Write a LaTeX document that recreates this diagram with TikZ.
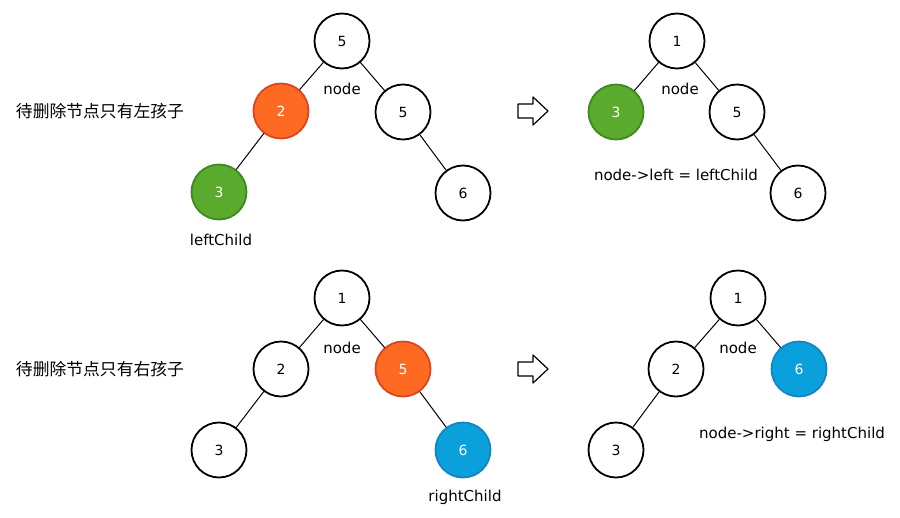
\documentclass[tikz,border=0pt]{standalone}
\usepackage{fontspec}
\setmainfont{DejaVu Sans}
\newfontfamily\cjk{Noto Sans CJK SC}
\definecolor{delfill}{HTML}{FF6A22}
\definecolor{deldraw}{HTML}{DD4422}
\definecolor{leftfill}{HTML}{5AAA2E}
\definecolor{leftdraw}{HTML}{3E8A22}
\definecolor{rightfill}{HTML}{0AA0DC}
\definecolor{rightdraw}{HTML}{1584C4}
\begin{document}
\begin{tikzpicture}[x=1pt, y=-1pt, line join=round, line cap=round,
    tnode/.style={circle, draw, line width=1.8pt, minimum size=55pt, inner sep=0pt, font=\fontsize{14}{14}\selectfont},
    delnode/.style={tnode, draw=deldraw, fill=delfill, text=white},
    lnode/.style={tnode, draw=leftdraw, fill=leftfill, text=white},
    rnode/.style={tnode, draw=rightdraw, fill=rightfill, text=white},
    link/.style={line width=1pt},
    lbl/.style={font=\fontsize{15}{15}\selectfont},
    cn/.style={font=\cjk\fontsize{16.8}{16.8}\selectfont},
    turn/.style={line width=1.2pt}]
  \useasboundingbox (0,0) rectangle (900,517);
  % top left: only a left child
  \node[cn] (t1) at (100,111) {待删除节点只有左孩子};
  \node[tnode] (a1) at (342,41) {5};
  \node[delnode] (a2) at (281,111) {2};
  \node[tnode] (a3) at (403,112) {5};
  \node[lnode] (a4) at (219,192) {3};
  \node[tnode] (a5) at (463,193) {6};
  \node[lbl] (an) at (342,89) {node};
  \node[lbl] (al) at (221,240) {leftChild};
  % top right
  \draw[turn] (518,104)--(533,104)--(533,97)--(548,111)--(533,125)--(533,118)--(518,118)--cycle;
  \node[tnode] (b1) at (677,41) {1};
  \node[lnode] (b2) at (616,112) {3};
  \node[tnode] (b3) at (737,112) {5};
  \node[tnode] (b5) at (798,193) {6};
  \node[lbl] (bn) at (680,89) {node};
  \node[lbl] (bl) at (676,175) {node->left = leftChild};
  % bottom left: only a right child
  \node[cn] (t2) at (100,369) {待删除节点只有右孩子};
  \node[tnode] (c1) at (342,298) {1};
  \node[tnode] (c2) at (281,369) {2};
  \node[delnode] (c3) at (403,369) {5};
  \node[tnode] (c4) at (219,450) {3};
  \node[rnode] (c5) at (463,450) {6};
  \node[lbl] (cn) at (342,348) {node};
  \node[lbl] (cl) at (465,497) {rightChild};
  % bottom right
  \draw[turn] (518,362)--(533,362)--(533,355)--(548,369)--(533,383)--(533,376)--(518,376)--cycle;
  \node[tnode] (d1) at (738,298) {1};
  \node[tnode] (d2) at (676,369) {2};
  \node[rnode] (d3) at (799,369) {6};
  \node[tnode] (d4) at (616,450) {3};
  \node[lbl] (dn) at (738,348) {node};
  \node[lbl] (dl) at (792,434) {node->right = rightChild};
  \foreach \p/\q in {a1/a2,a1/a3,a2/a4,a3/a5,b1/b2,b1/b3,b3/b5,c1/c2,c1/c3,c2/c4,c3/c5,d1/d2,d1/d3,d2/d4}
    \draw[link] (\p)--(\q);
\end{tikzpicture}
\end{document}
